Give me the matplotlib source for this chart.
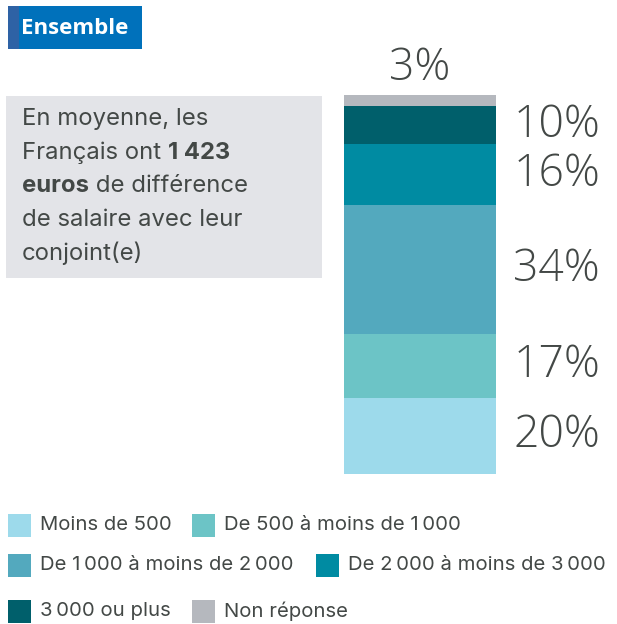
import matplotlib
matplotlib.use("Agg")
import matplotlib.pyplot as plt
from matplotlib.patches import Rectangle

# data (bottom to top)
categories = ["Moins de 500", "De 500 à moins de 1\u202f000",
              "De 1\u202f000 à moins de 2\u202f000", "De 2\u202f000 à moins de 3\u202f000",
              "3\u202f000 ou plus", "Non réponse"]
values = [20, 17, 34, 16, 10, 3]
colors = ["#9DDAEB", "#6CC4C6", "#53A9BE", "#008BA2", "#005F6B", "#B5B8BE"]

title = "Ensemble"
TXT = "#434846"
FAM = ["Inter", "DejaVu Sans"]
PCT_FAM = ["Open Sans", "DejaVu Sans"]

W, H = 617, 624
fig = plt.figure(figsize=(W / 100, H / 100), dpi=100)

# overlay axes in pixel coords for the decorations
bg = fig.add_axes([0, 0, 1, 1])
bg.set_xlim(0, W)
bg.set_ylim(H, 0)
bg.axis("off")

# header tag
bg.add_patch(Rectangle((8, 6), 134, 43, color="#0071BB", lw=0))
bg.add_patch(Rectangle((8, 6), 11, 43, color="#2E62A5", lw=0))
bg.text(21, 28, title, color="white", fontsize=16, fontweight="bold",
        family="Open Sans", va="center", ha="left")

# grey note box
bg.add_patch(Rectangle((6, 96), 316, 182, color="#E3E4E8", lw=0))
fs_note = 17.2
y0, dy = 119, 33.5
bg.text(22, y0, "En moyenne, les", fontsize=fs_note, family=FAM, color=TXT, va="center")
t = bg.text(22, y0 + dy, "Français ont ", fontsize=fs_note, family=FAM, color=TXT, va="center")
bg.annotate("1 423", xy=(1, 0), xycoords=t, va="bottom", ha="left",
            fontsize=fs_note, family=FAM, fontweight="bold", color=TXT)
t = bg.text(22, y0 + 2 * dy, "euros", fontsize=fs_note, family=FAM,
            fontweight="bold", color=TXT, va="center")
bg.annotate(" de différence", xy=(1, 0), xycoords=t, va="bottom", ha="left",
            fontsize=fs_note, family=FAM, color=TXT)
bg.text(22, y0 + 3 * dy, "de salaire avec leur", fontsize=fs_note, family=FAM, color=TXT, va="center")
bg.text(22, y0 + 4 * dy, "conjoint(e)", fontsize=fs_note, family=FAM, color=TXT, va="center")

# stacked bar
ax = fig.add_axes([344 / W, (H - 474) / H, 152 / W, 379 / H])
ax.set_xlim(0, 1)
ax.set_ylim(0, sum(values))
ax.axis("off")
bottom = 0
for v, c in zip(values, colors):
    ax.bar(0.5, v, width=1, bottom=bottom, color=c, linewidth=0)
    mid = bottom + v / 2
    if v >= 5:
        ax.text(1.115, mid, f"{v}%", fontsize=32, family=PCT_FAM, fontweight="light",
                color=TXT, va="center", ha="left", transform=ax.get_yaxis_transform())
    else:
        ax.text(0.5, bottom + v + 6.8, f"{v}%", fontsize=32, family=PCT_FAM,
                fontweight="light", color=TXT, va="center", ha="center", clip_on=False)
    bottom += v

# legend (flowing rows)
leg_pos = [(8, 525), (192, 525), (8, 565), (316, 565), (8, 611), (192, 611)]
for (lx, ly), lab, c in zip(leg_pos, categories, colors):
    bg.add_patch(Rectangle((lx, ly - 11.5), 23, 23, color=c, lw=0))
    bg.text(lx + 32, ly, lab, fontsize=14.6, family=FAM, color=TXT,
            va="center", ha="left")

fig.savefig("out.png", dpi=100)
